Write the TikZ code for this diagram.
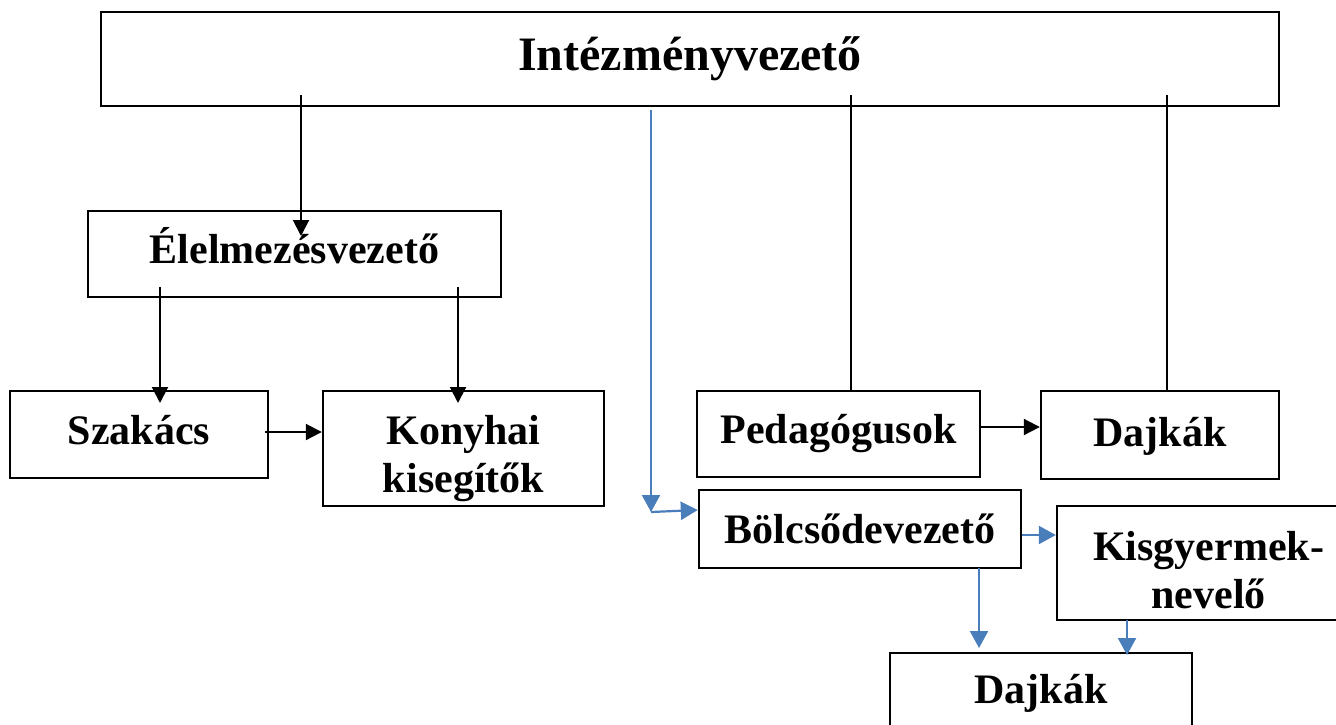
\documentclass[tikz,border=0pt]{standalone}
\usepackage{fontspec}
\setmainfont{Liberation Serif}
\usetikzlibrary{arrows.meta}
\definecolor{lineblue}{HTML}{4A7EBB}

\begin{document}
\begin{tikzpicture}[x=0.5pt,y=-0.5pt,
  orgbox/.style={draw,line width=1.2pt,inner sep=0pt,align=center,font=\fontsize{21}{24}\selectfont\bfseries},
  blk/.style={line width=1pt,-{Triangle[length=8pt,width=8pt]}},
  plain/.style={line width=1pt},
  blu/.style={lineblue,line width=1.1pt,-{Triangle[length=8.5pt,width=9pt]}}]
\useasboundingbox (0,0) rectangle (1336,724);
\clip (0,0) rectangle (1336,724);

% boxes
\node[orgbox,minimum width=589pt,minimum height=47pt,font=\fontsize{24}{28}\selectfont\bfseries] (vez) at (690,59) {Intézményvezető};
\node[orgbox,minimum width=206.5pt,minimum height=43pt,text depth=9pt] (elel) at (294.5,254) {Élelmezésvezető};
\node[orgbox,minimum width=129pt,minimum height=43.5pt,text depth=5pt] (szak) at (139,434.5) {Szakács};
\node[orgbox,minimum width=140.5pt,minimum height=57.5pt,text height=48.3pt,text depth=4.6pt] (kony) at (463.5,448.5) {Konyhai\\kisegítők};
\node[orgbox,minimum width=141.5pt,minimum height=43pt] (ped) at (838.5,434) {Pedagógusok};
\node[orgbox,minimum width=119pt,minimum height=44pt,text depth=3pt] (dajk1) at (1160,435) {Dajkák};
\node[orgbox,minimum width=161pt,minimum height=39pt] (bolcs) at (860,529) {Bölcsődevezető};
\node[orgbox,minimum width=151.5pt,minimum height=57pt,text height=50.3pt,text depth=4.6pt] (kisgy) at (1208.5,563) {Kisgyermek-\\nevelő};
\node[orgbox,minimum width=151pt,minimum height=40pt] (dajk2) at (1041,693) {Dajkák};

% end points of the connectors
\coordinate (v1) at (301,95);
\coordinate (v2) at (851,95);
\coordinate (v3) at (1167,95);
\coordinate (v4) at (651,110);
\coordinate (e1) at (160,287);
\coordinate (e2) at (458,287);
\coordinate (b1) at (651,512);
\coordinate (b2) at (979,568);
\coordinate (k1) at (1127,620);

% black connectors
\draw[blk] (v1) -- (v1 |- 0,236);
\draw[blk] (e1) -- (e1 |- 0,403);
\draw[blk] (e2) -- (e2 |- 0,403);
\draw[blk] (szak.east |- 0,432) ++(-4,0) -- (kony.west |- 0,432);
\draw[blk] (ped.east |- 0,427) -- (dajk1.west |- 0,427);
\draw[plain] (v2) -- (v2 |- ped.north);
\draw[plain] (v3) -- (v3 |- dajk1.north);

% blue connectors
\draw[blu] (v4) -- (b1);
\draw[blu] (b1) -- (bolcs.west |- 0,510);
\draw[blu] (bolcs.east |- 0,535) -- (kisgy.west |- 0,535);
\draw[blu] (b2) -- (b2 |- 0,648);
\draw[blu] (k1) -- (k1 |- 0,655);
\end{tikzpicture}
\end{document}
